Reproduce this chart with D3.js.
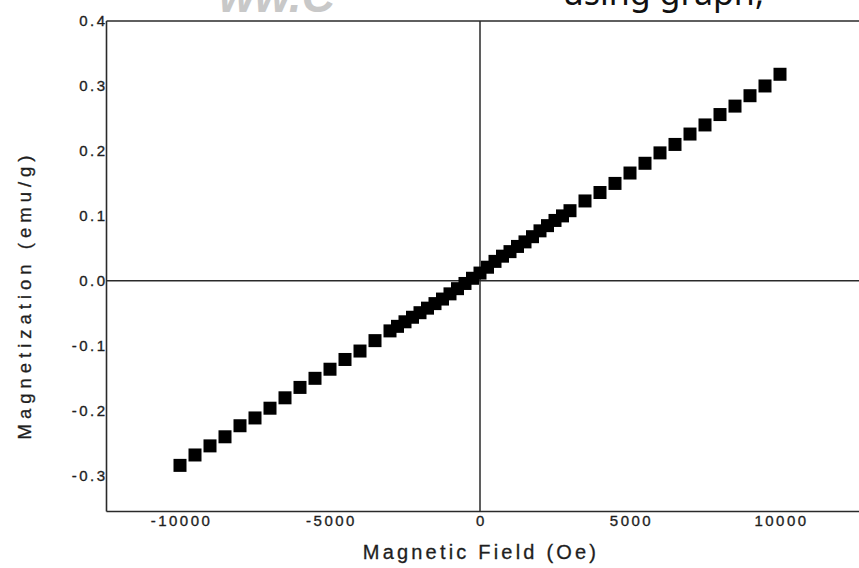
<!DOCTYPE html>
<html>
  <head>
    <meta charset="utf-8">
    <title>Magnetization vs Magnetic Field</title>
    <script src="https://d3js.org/d3.v7.min.js"></script>
    <style>
      body { margin: 0; background: #fff; }
      text { font-family: "Liberation Sans", Arial, sans-serif; }
    </style>
  </head>
  <body>
  <div id="chart"></div>
  <script>

  // field (Oe) and magnetization (emu/g)
  var field = [-10000, -9500, -9000, -8500, -8000, -7500, -7000, -6500, -6000, -5500, -5000, -4500, -4000, -3500, -3000,
               -2750, -2500, -2250, -2000, -1750, -1500, -1250, -1000, -750, -500, -250, 0,
               250, 500, 750, 1000, 1250, 1500, 1750, 2000, 2250, 2500, 2750,
               3000, 3500, 4000, 4500, 5000, 5500, 6000, 6500, 7000, 7500, 8000, 8500, 9000, 9500, 10000];
  var magnet = [-0.284, -0.268, -0.254, -0.240, -0.223, -0.211, -0.196, -0.180, -0.164, -0.150, -0.136, -0.121, -0.108, -0.092, -0.077,
                -0.070, -0.063, -0.056, -0.049, -0.042, -0.035, -0.028, -0.020, -0.012, -0.004, 0.004, 0.012,
                0.021, 0.030, 0.038, 0.045, 0.053, 0.060, 0.068, 0.077, 0.085, 0.093, 0.100,
                0.108, 0.123, 0.136, 0.150, 0.166, 0.181, 0.197, 0.210, 0.226, 0.240, 0.256, 0.269, 0.285, 0.300, 0.318];
  var xTicks = [-10000, -5000, 0, 5000, 10000];
  var yTicks = [-0.3, -0.2, -0.1, 0.0, 0.1, 0.2, 0.3, 0.4];

  var width = 859, height = 568, box = 13;
  var plotLeft = 106.5, plotTop = 21, plotBottom = 511.5;
  var ink = "#1e1e1e";

  var svg = d3.select("#chart").append("svg")
      .attr("width", width)
      .attr("height", height);

  var x = d3.scaleLinear().domain([-12450, 12700]).range([plotLeft, 861]);
  var y = d3.scaleLinear().domain([-0.355, 0.4]).range([plotBottom, plotTop]);

  // bits of page text cut off above the chart
  svg.append("text")
      .attr("x", 219).attr("y", 12)
      .attr("font-size", 46).attr("font-weight", "bold").attr("font-style", "italic")
      .attr("fill", "#c8c8c8")
      .text("ww.C");
  svg.append("text")
      .attr("x", 764).attr("y", 5)
      .attr("text-anchor", "end")
      .attr("font-size", 34)
      .style("font-family", "'Noto Sans', sans-serif")
      .attr("fill", "#111")
      .text("using graph,");

  // frame + zero lines
  var line = "#2a2a2a";
  svg.append("line").attr("x1", plotLeft).attr("x2", width).attr("y1", plotTop).attr("y2", plotTop)
      .attr("stroke", line).attr("stroke-width", 1.6);
  svg.append("line").attr("x1", plotLeft).attr("x2", width).attr("y1", plotBottom).attr("y2", plotBottom)
      .attr("stroke", line).attr("stroke-width", 1.6);
  svg.append("line").attr("x1", plotLeft).attr("x2", plotLeft).attr("y1", plotTop).attr("y2", plotBottom)
      .attr("stroke", line).attr("stroke-width", 1.6);
  svg.append("line").attr("x1", plotLeft).attr("x2", width).attr("y1", y(0)).attr("y2", y(0))
      .attr("stroke", line).attr("stroke-width", 1.5);
  svg.append("line").attr("x1", x(0)).attr("x2", x(0)).attr("y1", plotTop).attr("y2", plotBottom)
      .attr("stroke", line).attr("stroke-width", 1.5);

  // axes (labels only)
  var gx = svg.append("g")
      .attr("transform", "translate(0," + plotBottom + ")")
      .call(d3.axisBottom(x).tickValues(xTicks).tickSize(0).tickPadding(4)
            .tickFormat(function(d_){ return String(d_); }));
  gx.select(".domain").remove();
  gx.selectAll("text")
      .attr("font-size", 15).attr("letter-spacing", "2.5px")
      .attr("dx", "1px")
      .attr("fill", ink).attr("stroke", ink).attr("stroke-width", 0.35)
      .style("font-family", "'Liberation Sans', Arial, sans-serif");

  var gy = svg.append("g")
      .attr("transform", "translate(" + plotLeft + ",0)")
      .call(d3.axisLeft(y).tickValues(yTicks).tickSize(0).tickPadding(-1)
            .tickFormat(function(d_){ return d3.format(".1f")(d_).replace("\u2212", "-"); }));
  gy.select(".domain").remove();
  gy.selectAll("text")
      .attr("font-size", 15).attr("letter-spacing", "2.5px")
      .attr("fill", ink).attr("stroke", ink).attr("stroke-width", 0.35)
      .style("font-family", "'Liberation Sans', Arial, sans-serif");

  // titles
  svg.append("text")
      .attr("x", 481).attr("y", 559)
      .attr("text-anchor", "middle")
      .attr("font-size", 20).attr("letter-spacing", "3.2px")
      .attr("fill", ink).attr("stroke", ink).attr("stroke-width", 0.3)
      .text("Magnetic Field (Oe)");
  svg.append("text")
      .attr("transform", "translate(31,295) rotate(-90)")
      .attr("text-anchor", "middle")
      .attr("font-size", 18.5).attr("letter-spacing", "5px")
      .attr("fill", ink).attr("stroke", ink).attr("stroke-width", 0.3)
      .text("Magnetization (emu/g)");

  // data squares
  var pts = field.map(function(d_, i_){ return { h: d_, m: magnet[i_] }; });
  svg.selectAll(".pt")
      .data(pts)
      .enter()
      .append("rect")
      .attr("class", "pt")
      .attr("x", function(d_){ return x(d_.h) - box / 2; })
      .attr("y", function(d_){ return y(d_.m) - box / 2; })
      .attr("width", box)
      .attr("height", box)
      .attr("fill", "#000");

  </script>
  </body>
</html>
